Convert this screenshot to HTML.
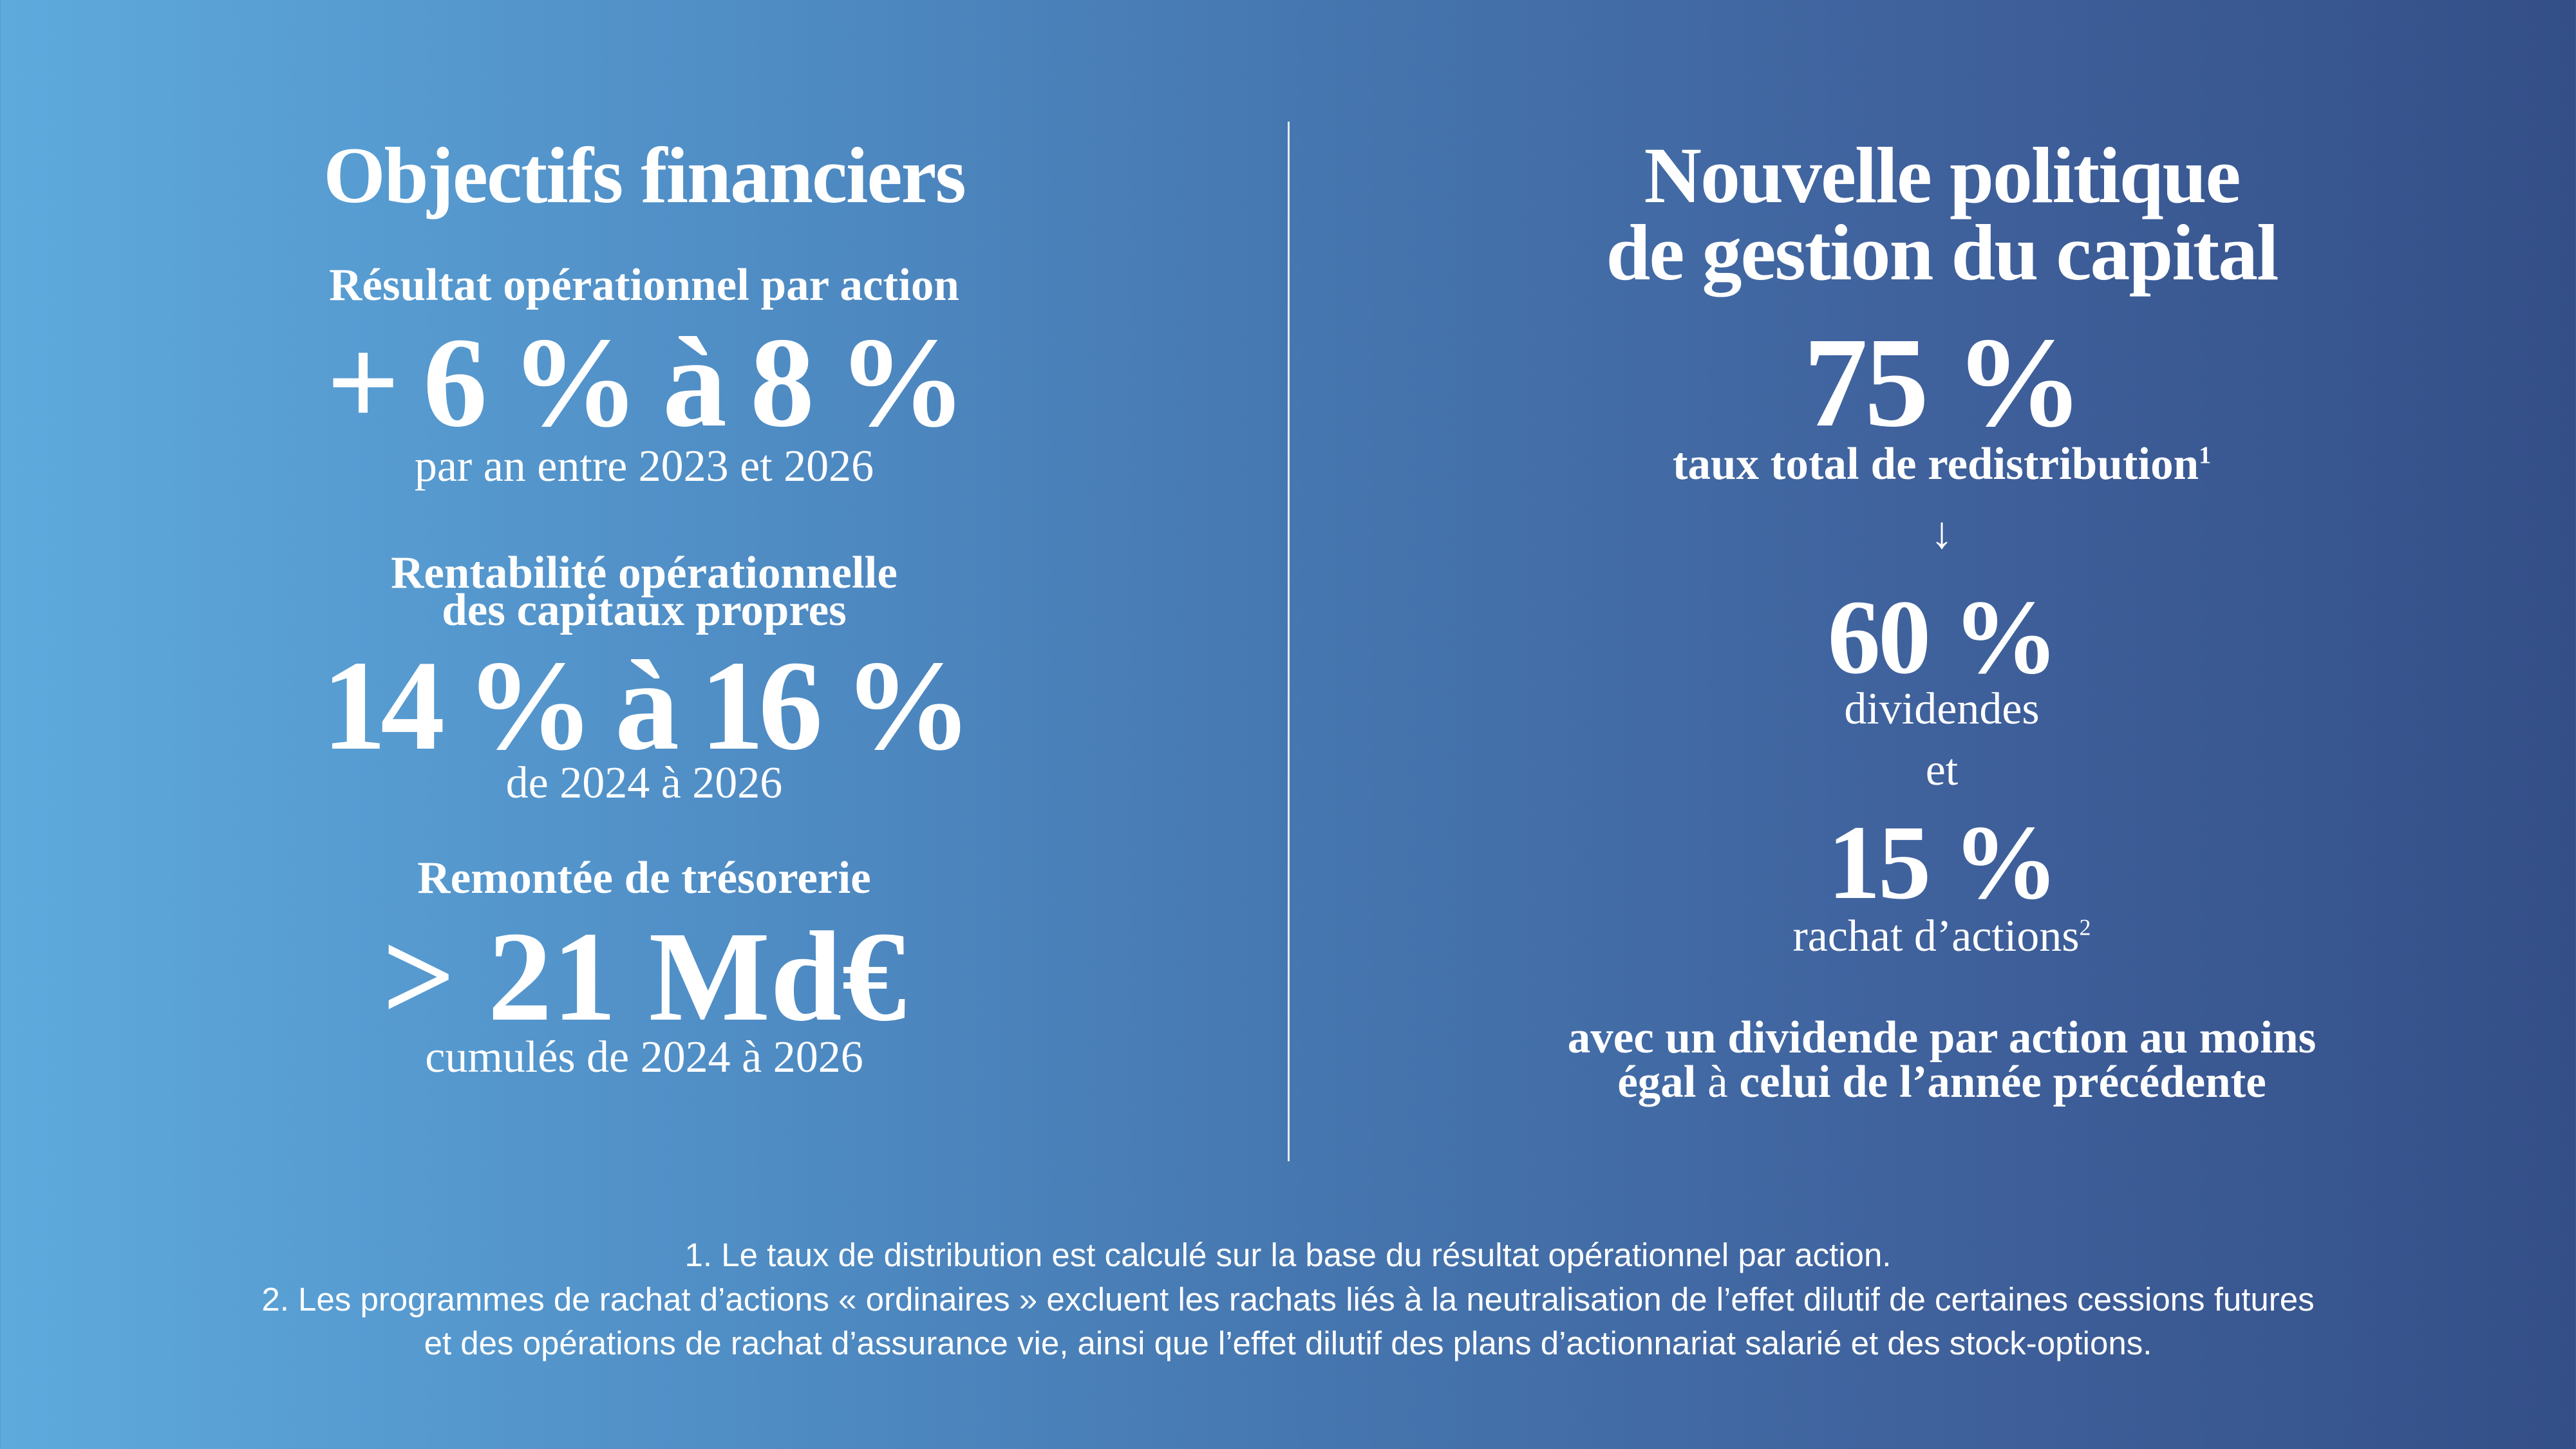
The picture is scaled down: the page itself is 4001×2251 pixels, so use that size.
<!DOCTYPE html>
<html><head><meta charset="utf-8">
<style>
html,body{margin:0;padding:0}
body{width:4001px;height:2251px;overflow:hidden;position:relative;
background:linear-gradient(90deg,#5eaadd 0%,#4f8cc4 30%,#4677b0 50%,#3f619c 75%,#344f88 100%);
font-family:"Liberation Serif",serif;color:#fff}
.t{position:absolute;text-align:center;white-space:nowrap;line-height:1.2}
.L{left:0;width:2001px}
.R{left:2001px;width:2030px}
.h{font-size:124px;font-weight:bold;letter-spacing:-2px}
.s{font-size:71px;font-weight:bold;letter-spacing:0}
.big{font-size:200px;font-weight:bold;letter-spacing:-5px}
.mid{font-size:165px;font-weight:bold;letter-spacing:-4px}
.lt{font-size:70px;letter-spacing:0}
.fn{position:absolute;left:0;width:4001px;text-align:center;font-family:"Liberation Sans",sans-serif;font-size:51px;line-height:1.2;white-space:nowrap}
</style></head>
<body>
<div style="position:absolute;left:2000px;top:189px;width:3px;height:1615px;background:rgba(255,255,255,0.85)"></div>

<div class="t L h" style="top:199px">Objectifs financiers</div>
<div class="t L s" style="top:401px">Résultat opérationnel par action</div>
<div class="t L big" style="top:475px;letter-spacing:-7px">+ 6 % à 8 %</div>
<div class="t L lt" style="top:683px">par an entre 2023 et 2026</div>
<div class="t L s" style="top:848px">Rentabilité opérationnelle</div>
<div class="t L s" style="top:906px">des capitaux propres</div>
<div class="t L big" style="top:977px;letter-spacing:-9px">14 % à 16 %</div>
<div class="t L lt" style="top:1175px">de 2024 à 2026</div>
<div class="t L s" style="top:1322px">Remontée de trésorerie</div>
<div class="t L big" style="top:1398px;letter-spacing:0">&gt; 21 Md€</div>
<div class="t L lt" style="top:1601px">cumulés de 2024 à 2026</div>

<div class="t R h" style="top:199px">Nouvelle politique</div>
<div class="t R h" style="top:319px">de gestion du capital</div>
<div class="t R big" style="top:475px">75 %</div>
<div class="t R s" style="top:679px">taux total de redistribution<sup style="font-size:38px">1</sup></div>
<div class="t R lt" style="top:787px">↓</div>
<div class="t R mid" style="top:891px">60 %</div>
<div class="t R lt" style="top:1060px">dividendes</div>
<div class="t R lt" style="top:1155px">et</div>
<div class="t R mid" style="top:1241px">15 %</div>
<div class="t R lt" style="top:1413px">rachat d’actions<sup style="font-size:36px">2</sup></div>
<div class="t R s" style="top:1570px">avec un dividende par action au moins</div>
<div class="t R s" style="top:1639px">égal <span style="font-weight:normal">à</span> celui de l’année précédente</div>

<div class="fn" style="top:1919px">1. Le taux de distribution est calculé sur la base du résultat opérationnel par action.</div>
<div class="fn" style="top:1988px">2. Les programmes de rachat d’actions « ordinaires » excluent les rachats liés à la neutralisation de l’effet dilutif de certaines cessions futures</div>
<div class="fn" style="top:2056px">et des opérations de rachat d’assurance vie, ainsi que l’effet dilutif des plans d’actionnariat salarié et des stock-options.</div>
</body></html>
